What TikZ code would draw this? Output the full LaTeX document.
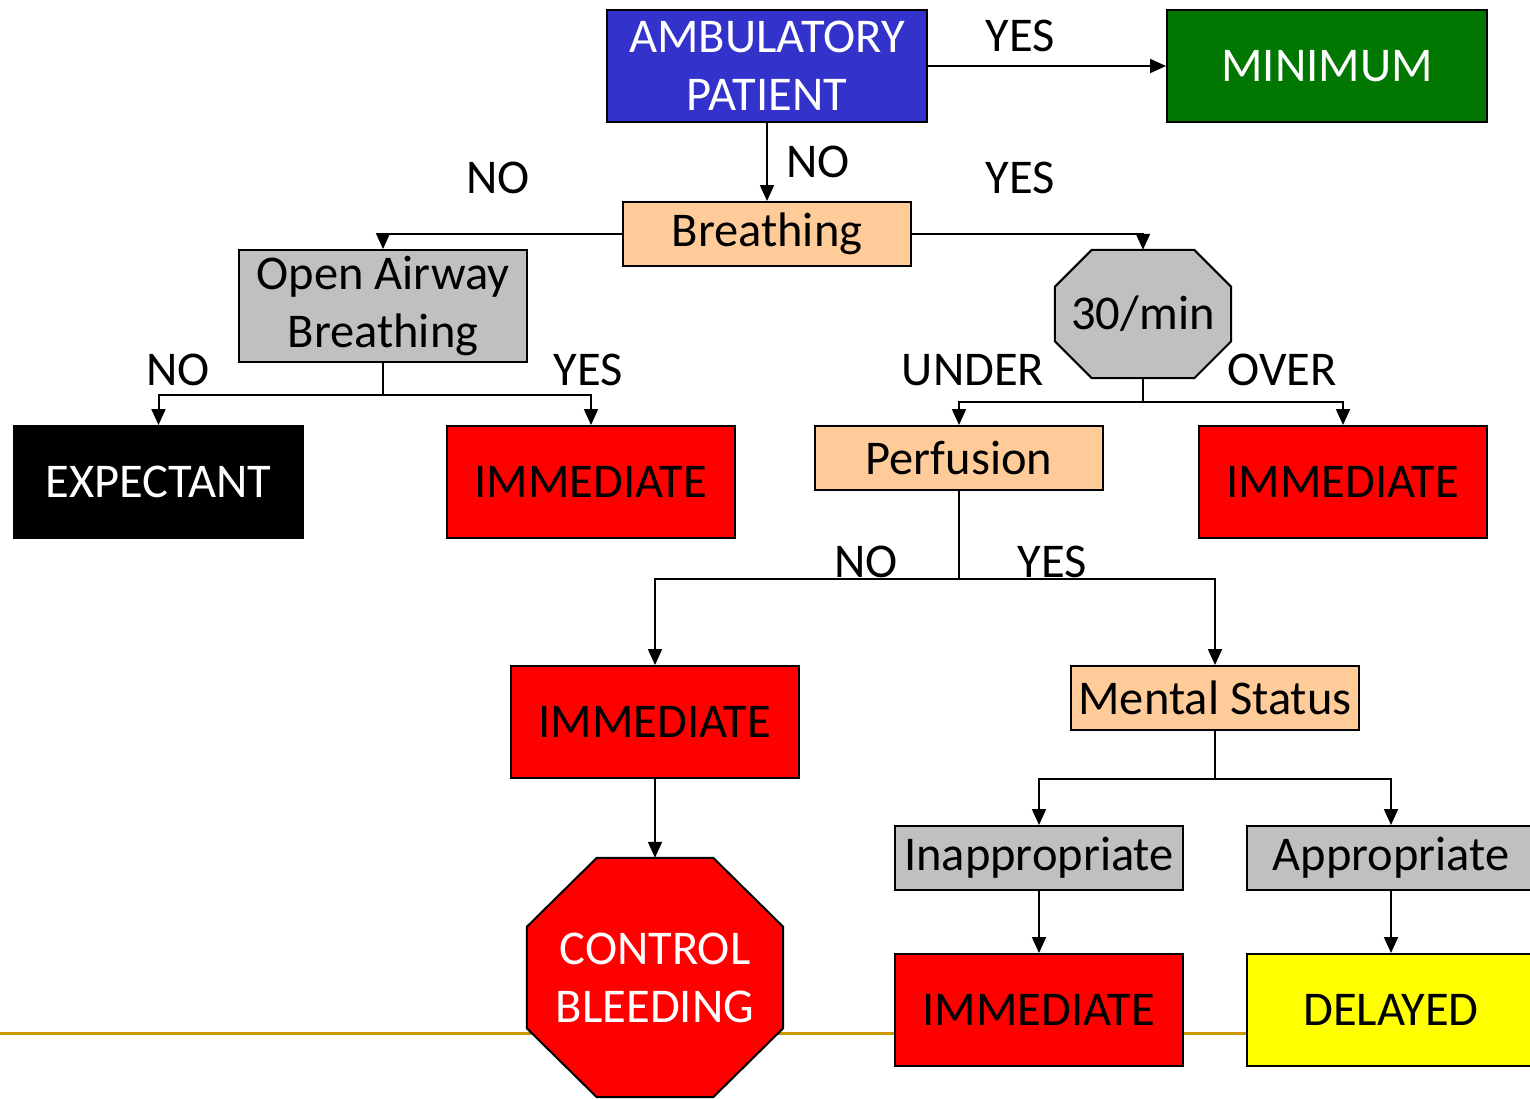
\documentclass[tikz,border=0pt]{standalone}
\usepackage{fontspec}
\setmainfont{Carlito}
\usetikzlibrary{arrows.meta,calc,backgrounds}
\definecolor{ambblue}{HTML}{3333CC}
\definecolor{mingreen}{HTML}{007700}
\definecolor{peach}{HTML}{FFCC99}
\definecolor{greybox}{HTML}{C0C0C0}
\definecolor{goldline}{HTML}{CC9900}
\definecolor{redbox}{HTML}{FF0000}
\definecolor{yellowbox}{HTML}{FFFF00}
\begin{document}
\begin{tikzpicture}[x=1pt,y=-1pt,
  font=\fontsize{48.5}{58}\selectfont,
  box/.style={draw=black, line width=2pt, rectangle, inner sep=0pt, align=center,
              minimum width=288pt, minimum height=112pt},
  flat/.style={box, minimum height=64pt},
  octo/.style={rectangle, inner sep=0pt, align=center},
  octline/.style={draw=black, line width=2pt, line join=miter},
  lbl/.style={inner sep=0pt, text=black},
  conn/.style={draw=black, line width=2pt},
  arr/.style={conn, -{Triangle[length=16pt,width=14pt]}}]
\useasboundingbox (0,0) rectangle (1530,1098);
\clip (0,0) rectangle (1530,1098);

% nodes
\node[box, fill=ambblue, text=white, minimum width=320pt] (amb) at (767,66) {AMBULATORY\\PATIENT};
\node[box, fill=mingreen, text=white, minimum width=320pt] (mini) at (1327,66) {MINIMUM};
\node[flat, fill=peach] (breath) at (767,234) {Breathing};
\node[box, fill=greybox] (open) at (383,306) {Open Airway\\Breathing};
\node[octo, minimum width=176pt, minimum height=128pt] (oct) at (1143,314) {30/min};
\node[box, fill=black, text=white, minimum width=289pt] (exp) at (158.5,482) {EXPECTANT};
\node[box, fill=redbox] (immA) at (591,482) {IMMEDIATE};
\node[flat, fill=peach] (perf) at (959,458) {Perfusion};
\node[box, fill=redbox] (immB) at (1343,482) {IMMEDIATE};
\node[box, fill=redbox] (immC) at (655,722) {IMMEDIATE};
\node[octo, text=white, minimum width=256pt, minimum height=239pt] (cb) at (655,977.5) {CONTROL\\BLEEDING};
\node[flat, fill=peach] (mental) at (1215,698) {Mental Status};
\node[flat, fill=greybox] (inapp) at (1039,858) {Inappropriate};
\node[flat, fill=greybox] (app) at (1391,858) {Appropriate};
\node[box, fill=redbox] (immD) at (1039,1010) {IMMEDIATE};
\node[box, fill=yellowbox] (del) at (1391,1010) {DELAYED};

% background: slide line and octagon outlines
\begin{pgfonlayer}{background}
\fill[white] (0,0) rectangle (1530,1098);
\draw[goldline, line width=3pt] (0,1033) -- (1530,1033);
\filldraw[octline, fill=greybox]
  ($(oct.north west)+(37,0)$) -- ($(oct.north east)+(-37,0)$) --
  ($(oct.north east)+(0,37)$) -- ($(oct.south east)+(0,-37)$) --
  ($(oct.south east)+(-37,0)$) -- ($(oct.south west)+(37,0)$) --
  ($(oct.south west)+(0,-37)$) -- ($(oct.north west)+(0,37)$) -- cycle;
\filldraw[octline, fill=redbox]
  ($(cb.north west)+(70,0)$) -- ($(cb.north east)+(-70,0)$) --
  ($(cb.north east)+(0,69)$) -- ($(cb.south east)+(0,-69)$) --
  ($(cb.south east)+(-70,0)$) -- ($(cb.south west)+(70,0)$) --
  ($(cb.south west)+(0,-69)$) -- ($(cb.north west)+(0,69)$) -- cycle;
\end{pgfonlayer}

% connectors
\draw[arr] (amb.east) -- (mini.west);
\draw[arr] (amb.south) -- (breath.north);
\draw[arr] (breath.west) -| (open.north);
\draw[arr] (breath.east) -| (oct.north);
\draw[arr] (open.south) -- ++(0,32) -| (exp.north);
\draw[arr] (open.south) -- ++(0,32) -| (immA.north);
\draw[arr] (oct.south) -- ++(0,24) -| (perf.north);
\draw[arr] (oct.south) -- ++(0,24) -| (immB.north);
\draw[arr] (perf.south) -- ++(0,88) -| (immC.north);
\draw[arr] (perf.south) -- ++(0,88) -| (mental.north);
\draw[arr] (immC.south) -- (cb.north);
\draw[arr] (mental.south) -- ++(0,48) -| (inapp.north);
\draw[arr] (mental.south) -- ++(0,48) -| (app.north);
\draw[arr] (inapp.south) -- (immD.north);
\draw[arr] (app.south) -- (del.north);

% labels
\node[lbl] (l1) at (1020,36) {YES};
\node[lbl] (l2) at (818,162) {NO};
\node[lbl] (l3) at (498,178) {NO};
\node[lbl] (l4) at (1020,178) {YES};
\node[lbl] (l5) at (178,370) {NO};
\node[lbl] (l6) at (588,370) {YES};
\node[lbl] (l7) at (973,370) {UNDER};
\node[lbl] (l8) at (1282,370) {OVER};
\node[lbl] (l9) at (866,562) {NO};
\node[lbl] (l10) at (1052,562) {YES};
\end{tikzpicture}
\end{document}
